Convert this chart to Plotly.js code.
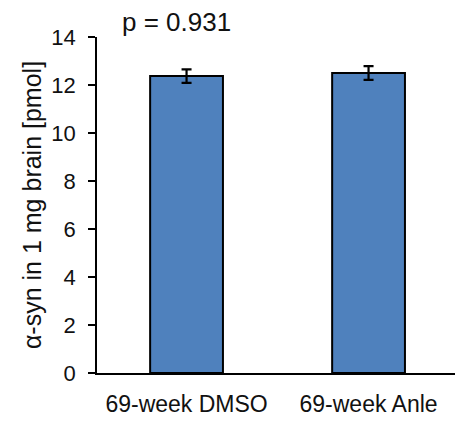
<!DOCTYPE html>
<html>
<head>
<meta charset="utf-8">
<script src="https://cdn.plot.ly/plotly-3.0.1.min.js"></script>
<style>html,body{margin:0;padding:0;background:#fff;}#chart{width:455px;height:421px;}</style>
</head>
<body>
<div id="chart"></div>
<script>
const categories = ["69-week DMSO", "69-week Anle"];
const values = [12.37, 12.5];
const errors = [0.28, 0.29];
const yTicks = [0, 2, 4, 6, 8, 10, 12, 14];
const pText = "p = 0.931";

const fam = "Liberation Sans, Arial, sans-serif";
const col = "#111";

Plotly.newPlot("chart", [{
  type: "bar",
  x: [0, 1],
  y: values,
  width: 0.4,
  marker: {color: "#4F81BD", line: {color: "#000", width: 2}},
  error_y: {type: "data", array: errors, visible: true, color: "#000", thickness: 2.2, width: 5}
}], {
  width: 455, height: 421,
  margin: {l: 97, r: 0, t: 37, b: 48, pad: 0},
  paper_bgcolor: "#fff", plot_bgcolor: "#fff",
  showlegend: false,
  font: {family: fam, size: 22, color: col},
  xaxis: {
    range: [-0.492, 1.475],
    tickvals: [0, 1], ticktext: categories,
    showline: true, linecolor: "#000", linewidth: 1.5,
    ticks: "", showgrid: false, zeroline: false,
    ticklabelstandoff: 10,
    tickfont: {family: fam, size: 23, color: col}
  },
  yaxis: {
    range: [0, 14],
    tickvals: yTicks,
    showline: true, linecolor: "#000", linewidth: 1.5,
    ticks: "outside", ticklen: 7, tickwidth: 1.5, tickcolor: "#000",
    showgrid: false, zeroline: false,
    ticklabelstandoff: 8,
    tickfont: {family: fam, size: 22, color: col},
    title: {text: "α-syn in 1 mg brain [pmol]", font: {family: fam, size: 25, color: col}, standoff: 3}
  },
  annotations: [{
    xref: "paper", yref: "paper", x: 0.065, y: 1.0446, xanchor: "left", yanchor: "middle",
    text: pText, showarrow: false, font: {family: fam, size: 26, color: col}
  }]
}, {displayModeBar: false});
</script>
</body>
</html>
